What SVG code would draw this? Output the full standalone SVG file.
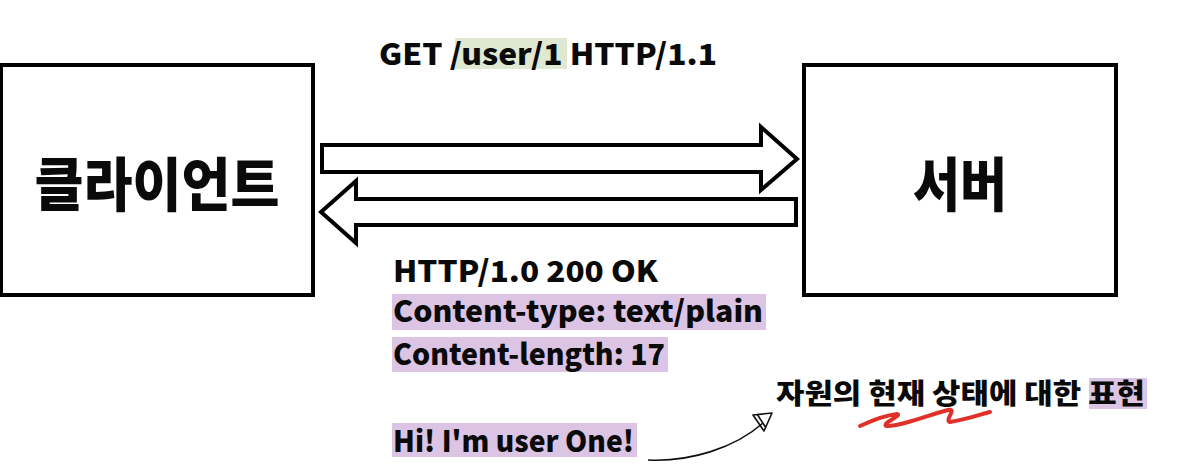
<svg xmlns="http://www.w3.org/2000/svg" width="1196" height="476" viewBox="0 0 1196 476">
<style>
.box{fill:#fff;stroke:#000;stroke-width:4}
.arrow{fill:#fff;stroke:#000;stroke-width:4;stroke-linejoin:miter}
.t{font-family:"Noto Sans CJK KR","Noto Sans",sans-serif;font-weight:900;fill:#0a0a0a}
.big{font-size:58px}
.mid{font-size:29px}
.hp{fill:#dcc4e4}
.hg{fill:#dfe9d2}
</style>
<rect width="1196" height="476" fill="#fff"/>
<g id="client">
<rect class="box" x="1" y="65" width="312" height="230"/>
<text class="t big" x="157" y="206" text-anchor="middle" textLength="245" lengthAdjust="spacingAndGlyphs">클라이언트</text>
</g>
<g id="server">
<rect class="box" x="804" y="65" width="312" height="230"/>
<text class="t big" x="960" y="206" text-anchor="middle" textLength="94" lengthAdjust="spacingAndGlyphs">서버</text>
</g>
<g id="connectors">
<polygon class="arrow" points="322,145 761,145 761,127 797,159 761,190 761,172 322,172"/>
<polygon class="arrow" points="796,199 356,199 356,181 321,212 356,243 356,225 796,225"/>
<path d="M648,460 C690,462 735,448 763,423" fill="none" stroke="#111" stroke-width="1.6"/>
<path d="M753,415 L772,413 L764,431 Z M757,414 L766,428" fill="none" stroke="#111" stroke-width="1.6" stroke-linejoin="round"/>
</g>
<g id="request">
<rect class="hg" x="455" y="38" width="112" height="31"/>
<text class="t mid" x="379" y="65" textLength="338" lengthAdjust="spacingAndGlyphs">GET /user/1 HTTP/1.1</text>
</g>
<g id="response">
<rect class="hp" x="392" y="294" width="374" height="36"/>
<rect class="hp" x="392" y="337" width="276" height="35"/>
<rect class="hp" x="392" y="423" width="245" height="34"/>
<text class="t mid" x="393" y="282" textLength="265" lengthAdjust="spacingAndGlyphs">HTTP/1.0 200 OK</text>
<text class="t mid" x="393" y="322" textLength="370" lengthAdjust="spacingAndGlyphs">Content-type: text/plain</text>
<text class="t mid" x="393" y="365" textLength="272" lengthAdjust="spacingAndGlyphs">Content-length: 17</text>
<text class="t mid" x="393" y="452" textLength="241" lengthAdjust="spacingAndGlyphs">Hi! I'm user One!</text>
</g>
<g id="note">
<rect class="hp" x="1089" y="378" width="58" height="31"/>
<text class="t" font-size="28" x="776" y="404" textLength="369" lengthAdjust="spacingAndGlyphs">자원의 현재 상태에 대한 표현</text>
<path d="M860,426 C875,419 888,415 897,414 C903,415 882,423 886,426 C900,427 925,416 948,410 C958,408 944,420 950,422 C965,420 982,414 990,412" fill="none" stroke="#e0302a" stroke-width="4" stroke-linecap="round" stroke-linejoin="round"/>
</g>
</svg>
